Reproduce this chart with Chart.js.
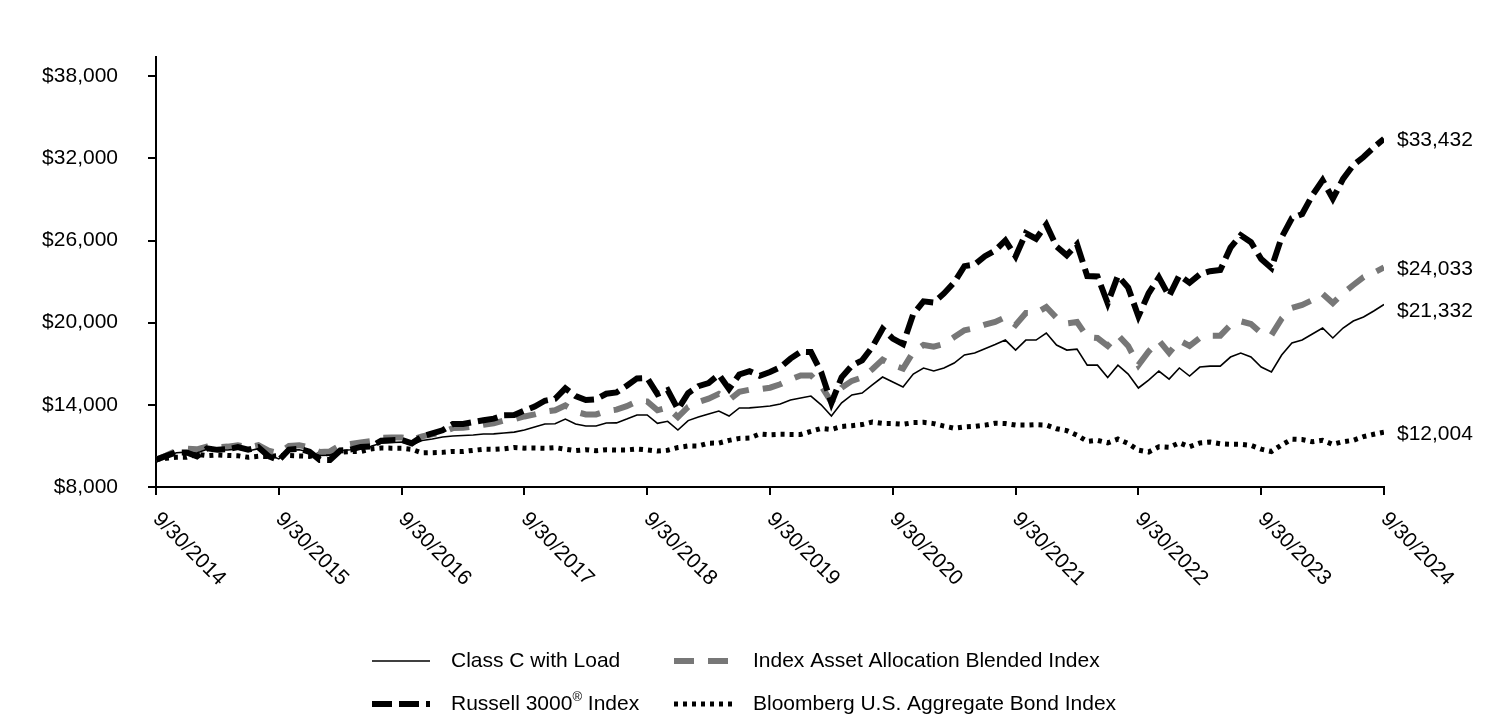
<!DOCTYPE html>
<html>
<head>
<meta charset="utf-8">
<script src="https://cdn.jsdelivr.net/npm/chart.js@4.4.1/dist/chart.umd.min.js"></script>
<style>
html,body{margin:0;padding:0;background:#fff;}
canvas{display:block;}
</style>
</head>
<body>
<canvas id="c" width="1512" height="720"></canvas>
<script>
// Year-end tick labels (every 12 months from 9/30/2014)
const tickLabels = ["9/30/2014","9/30/2015","9/30/2016","9/30/2017","9/30/2018","9/30/2019","9/30/2020","9/30/2021","9/30/2022","9/30/2023","9/30/2024"];
const tickMonths = [0,12,24,36,48,60,72,84,96,108,120];
const yTicks = [8000,14000,20000,26000,32000,38000];

const seriesNames = ["Class C with Load","Russell 3000® Index","Index Asset Allocation Blended Index","Bloomberg U.S. Aggregate Bond Index"];

// Monthly values, 9/2014 .. 9/2024 (121 points)
const classC = [
10000,10250,10500,10550,10480,10750,10700,10700,10780,10630,10800,10350,10050,
10700,10720,10550,10300,10330,10650,10720,10900,10980,11200,11250,11280,
11070,11400,11500,11650,11720,11760,11800,11870,11880,11940,12010,12160,
12380,12600,12620,12960,12600,12450,12450,12670,12680,12960,13260,13260,
12650,12800,12160,12850,13110,13330,13550,13180,13770,13780,13840,13910,
14060,14350,14500,14640,14000,13180,14150,14720,14860,15450,16030,15670,
15300,16250,16690,16470,16690,17050,17640,17780,18100,18400,18730,18000,
18730,18730,19240,18370,18000,18070,16900,16900,16000,16900,16250,15230,
15810,16470,15880,16690,16100,16760,16830,16830,17490,17780,17490,16760,
16400,17640,18510,18730,19170,19610,18880,19610,20120,20410,20850,21332
];
const russell3000 = [
10000,10275,10524,10524,10231,10823,10713,10761,10910,10728,10907,10248,9950,
10736,10795,10574,9978,9975,10670,10736,10928,10952,11387,11417,11435,
11187,11690,11918,12142,12594,12603,12738,12873,12989,13232,13257,13581,
13877,14299,14443,15204,14643,14349,14405,14810,14906,15399,15932,15959,
14785,15081,13677,14851,15365,15591,16210,15156,16220,16458,16123,16392,
16738,17376,17873,17853,16391,14137,16009,16866,17252,18230,19550,18838,
18429,20633,21557,21475,22134,22938,24128,24244,24853,25273,26003,24836,
26530,26127,27159,25559,24915,25722,23407,23379,21422,23432,22558,20467,
22145,23306,21940,23454,22910,23522,23762,23847,25476,26388,25879,24647,
23994,26235,27628,27935,29300,30400,29050,30500,31500,32100,32800,33432
];
const blended = [
10000,10300,10650,10800,10750,10950,10900,10950,11050,10900,11050,10650,10480,
11000,11050,10900,10550,10600,11050,11150,11250,11350,11600,11620,11620,
11450,11700,11850,12000,12300,12320,12420,12550,12650,12850,12950,13150,
13300,13500,13600,13950,13500,13300,13300,13550,13650,13900,14250,14250,
13600,13800,13100,13850,14200,14450,14800,14350,14950,15100,15150,15250,
15500,15850,16150,16150,15400,14200,15250,15750,16000,16600,17300,16900,
16650,17860,18370,18250,18450,18950,19450,19600,19850,20050,20400,19830,
20700,20700,21140,20350,19950,20050,18950,18880,18300,19100,18300,16900,
17900,18700,17800,18700,18300,18880,19050,19050,19830,20100,19900,19240,
19100,20300,21070,21300,21650,22100,21430,22150,22750,23330,23650,24033
];
const aggBond = [
10000,10098,10170,10179,10393,10295,10342,10305,10280,10168,10239,10225,10294,
10296,10269,10236,10377,10451,10547,10587,10590,10781,10849,10837,10830,
10748,10493,10508,10529,10600,10594,10676,10758,10747,10793,10890,10838,
10845,10831,10881,10756,10654,10722,10643,10718,10705,10707,10776,10707,
10622,10686,10883,10998,10992,11203,11206,11406,11550,11575,11875,11812,
11847,11841,11833,12060,12277,12205,12422,12480,12559,12746,12643,12637,
12580,12703,12721,12630,12448,12292,12389,12430,12517,12657,12633,12523,
12519,12557,12524,12255,12118,11781,11334,11407,11228,11502,11176,10693,
10554,10942,10893,11228,10937,11215,11283,11160,11120,11112,11041,10761,
10591,11071,11495,11464,11302,11406,11117,11306,11413,11680,11848,12004
];

const FONT = '"Liberation Sans", Arial, Helvetica, sans-serif';
Chart.defaults.font.family = FONT;
Chart.defaults.font.size = 21;
Chart.defaults.color = '#000';

const toXY = arr => arr.map((v, i) => ({x: i, y: v}));
const fmt = v => '$' + v.toLocaleString('en-US');

const datasets = [
  {label: seriesNames[0], data: toXY(classC), borderColor: '#000', borderWidth: 1.6, borderDash: []},
  {label: seriesNames[1], data: toXY(russell3000), borderColor: '#000', borderWidth: 6, borderDash: [20, 7]},
  {label: seriesNames[2], data: toXY(blended), borderColor: '#777777', borderWidth: 6, borderDash: [20, 14]},
  {label: seriesNames[3], data: toXY(aggBond), borderColor: '#000', borderWidth: 5, borderDash: [4, 5]}
].map(d => Object.assign(d, {pointRadius: 0, pointHoverRadius: 0, tension: 0, fill: false,
  borderCapStyle: 'butt', borderJoinStyle: 'miter'}));

const endLabelPlugin = {
  id: 'endLabels',
  afterDatasetsDraw(chart) {
    const ctx = chart.ctx;
    const dy = [7, 1, 2, 2];
    ctx.save();
    ctx.font = '21px ' + FONT;
    ctx.fillStyle = '#000';
    ctx.textAlign = 'left';
    ctx.textBaseline = 'middle';
    chart.data.datasets.forEach((ds, i) => {
      const meta = chart.getDatasetMeta(i);
      const pt = meta.data[meta.data.length - 1];
      const v = ds.data[ds.data.length - 1].y;
      ctx.fillText(fmt(v), pt.x + 13, pt.y + dy[i]);
    });
    ctx.restore();
  }
};

const xLabelPlugin = {
  id: 'xLabels',
  afterDraw(chart) {
    const ctx = chart.ctx;
    const xs = chart.scales.x;
    const base = chart.chartArea.bottom;
    ctx.save();
    ctx.font = '21px ' + FONT;
    ctx.fillStyle = '#000';
    ctx.textAlign = 'left';
    ctx.textBaseline = 'middle';
    tickMonths.forEach((m, i) => {
      const x = xs.getPixelForValue(m);
      ctx.save();
      ctx.translate(x, base + 29);
      ctx.rotate(Math.PI / 4);
      ctx.fillText(tickLabels[i], 0, 0);
      ctx.restore();
    });
    ctx.restore();
  }
};

const legendPlugin = {
  id: 'customLegend',
  afterDraw(chart) {
    const ctx = chart.ctx;
    const pos = [
      {ds: 0, x: 372, y: 661},
      {ds: 2, x: 674, y: 661},
      {ds: 1, x: 372, y: 704},
      {ds: 3, x: 674, y: 704}
    ];
    ctx.save();
    pos.forEach(p => {
      const ds = chart.data.datasets[p.ds];
      ctx.save();
      ctx.strokeStyle = ds.borderColor;
      ctx.lineWidth = ds.borderWidth;
      ctx.setLineDash(ds.borderDash || []);
      ctx.lineCap = 'butt';
      ctx.beginPath();
      ctx.moveTo(p.x, p.y);
      ctx.lineTo(p.x + 58, p.y);
      ctx.stroke();
      ctx.restore();
      ctx.fillStyle = '#000';
      ctx.textAlign = 'left';
      ctx.textBaseline = 'middle';
      const tx = p.x + 79;
      const label = ds.label;
      if (label.indexOf('®') >= 0) {
        const parts = label.split('®');
        ctx.font = '21px ' + FONT;
        ctx.fillText(parts[0], tx, p.y);
        const w1 = ctx.measureText(parts[0]).width;
        ctx.font = '13px ' + FONT;
        ctx.fillText('®', tx + w1, p.y - 7);
        const w2 = ctx.measureText('®').width;
        ctx.font = '21px ' + FONT;
        ctx.fillText(parts[1], tx + w1 + w2, p.y);
      } else {
        ctx.font = '21px ' + FONT;
        ctx.fillText(label, tx, p.y);
      }
    });
    ctx.restore();
  }
};

new Chart(document.getElementById('c'), {
  type: 'line',
  data: {datasets},
  plugins: [endLabelPlugin, xLabelPlugin, legendPlugin],
  options: {
    responsive: false,
    animation: false,
    events: [],
    layout: {padding: {left: 0, right: 128, top: 57, bottom: 0}},
    plugins: {legend: {display: false}, tooltip: {enabled: false}, title: {display: false}},
    scales: {
      x: {
        type: 'linear',
        min: 0, max: 120,
        afterBuildTicks: s => { s.ticks = tickMonths.map(v => ({value: v})); },
        afterFit: s => { s.height = 233; },
        ticks: {display: false},
        grid: {drawOnChartArea: false, drawTicks: true, tickLength: 8, color: '#000', lineWidth: 2},
        border: {display: true, color: '#000', width: 2}
      },
      y: {
        min: 8000, max: 39400,
        afterBuildTicks: s => { s.ticks = yTicks.map(v => ({value: v})); },
        afterFit: s => { s.width = 156; },
        ticks: {padding: 30, callback: v => fmt(v), font: {size: 21}},
        grid: {drawOnChartArea: false, drawTicks: true, tickLength: 8, color: '#000', lineWidth: 2},
        border: {display: true, color: '#000', width: 2}
      }
    }
  }
});
</script>
</body>
</html>
